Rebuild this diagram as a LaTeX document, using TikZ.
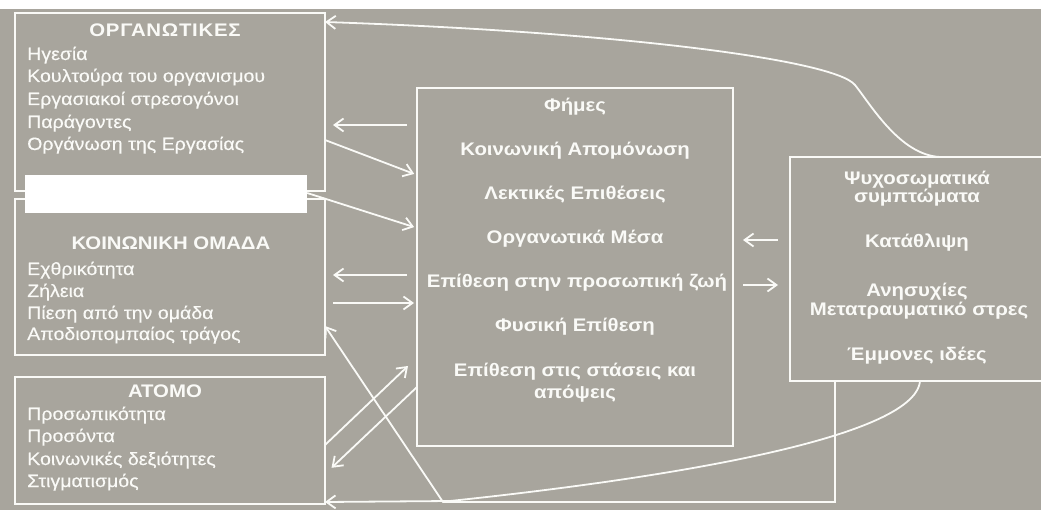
\documentclass[tikz,border=0pt]{standalone}
\usepackage{fontspec}
\setmainfont{Liberation Sans}
\newfontfamily\dfont[FakeStretch=1.1,FakeBold=0.3]{Liberation Sans}
\newfontfamily\bfont[FakeStretch=1.12]{Liberation Sans}
\newfontfamily\wfont[FakeStretch=1.12,LetterSpace=4]{Liberation Sans}
\usetikzlibrary{arrows.meta}
\definecolor{bg}{HTML}{A8A59D}
\definecolor{ln}{HTML}{FAFAF7}
\begin{document}
\begin{tikzpicture}[x=1pt,y=-1pt,
  box/.style={draw=ln, line width=2.4pt, inner sep=0pt, outer sep=0pt},
  txt/.style={text=ln, inner sep=0pt, anchor=base west, font=\dfont\fontsize{17.8}{19}\selectfont},
  ttl/.style={text=ln, inner sep=0pt, anchor=base, font=\bfont\bfseries\fontsize{18.2}{19}\selectfont},
  arr/.style={draw=ln, line width=1.8pt, -{Straight Barb[length=9pt,width=13pt]}}]
\useasboundingbox (0,0) rectangle (1041,510);
\clip (0,0) rectangle (1041,510);
\fill[bg] (0,0) rectangle (1041,510);
\fill[white] (0,0) rectangle (1041,9);

% boxes
\node[box, minimum width=310pt, minimum height=178pt] (org) at (170,102) {};
\node[box, minimum width=310pt, minimum height=156pt] (koin) at (170,277) {};
\node[box, minimum width=310pt, minimum height=127pt] (atomo) at (170,440.5) {};
\node[box, minimum width=316pt, minimum height=358pt] (cen) at (575,267) {};
\node[box, minimum width=270pt, minimum height=224pt] (rb) at (925,269) {};
\node[fill=white, inner sep=0pt, minimum width=282pt, minimum height=38pt] (wr) at (166,194) {};

% ORG text
\node[ttl, font=\wfont\bfseries\fontsize{18.2}{19}\selectfont] (ot) at (165,37) {ΟΡΓΑΝΩΤΙΚΕΣ};
\node[txt] (o1) at (27,60) {Ηγεσία};
\node[txt] (o2) at (27,82) {Κουλτούρα του οργανισμου};
\node[txt] (o3) at (27,105) {Εργασιακοί στρεσογόνοι};
\node[txt] (o4) at (27,128) {Παράγοντες};
\node[txt] (o5) at (27,150) {Οργάνωση της Εργασίας};

% KOIN text
\node[ttl] (kt) at (171,250) {ΚΟΙΝΩΝΙΚΗ ΟΜΑΔΑ};
\node[txt] (k1) at (27,275) {Εχθρικότητα};
\node[txt] (k2) at (27,297) {Ζήλεια};
\node[txt] (k3) at (27,319) {Πίεση από την ομάδα};
\node[txt] (k4) at (27,340) {Αποδιοπομπαίος τράγος};

% ATOMO text
\node[ttl] (at) at (165,397) {ΑΤΟΜΟ};
\node[txt] (a1) at (27,420) {Προσωπικότητα};
\node[txt] (a2) at (27,442) {Προσόντα};
\node[txt] (a3) at (27,465) {Κοινωνικές δεξιότητες};
\node[txt] (a4) at (27,487) {Στιγματισμός};

% central text
\node[ttl] (c1) at (575,112) {Φήμες};
\node[ttl] (c2) at (575,156) {Κοινωνική Απομόνωση};
\node[ttl] (c3) at (575,200) {Λεκτικές Επιθέσεις};
\node[ttl] (c4) at (575,244) {Οργανωτικά Μέσα};
\node[ttl] (c5) at (577,288) {Επίθεση στην προσωπική ζωή};
\node[ttl] (c6) at (575,332) {Φυσική Επίθεση};
\node[ttl] (c7) at (575,377) {Επίθεση στις στάσεις και};
\node[ttl] (c8) at (575,399) {απόψεις};

% right text
\node[ttl] (r1) at (917,185) {Ψυχοσωματικά};
\node[ttl] (r2) at (917,203) {συμπτώματα};
\node[ttl] (r3) at (917,248) {Κατάθλιψη};
\node[ttl] (r4) at (917,297) {Ανησυχίες};
\node[ttl] (r5) at (919,316) {Μετατραυματικό στρες};
\node[ttl] (r6) at (917,360) {Έμμονες ιδέες};

% connectors
\coordinate (p1) at (835,502);
\coordinate (p2) at (443,502);
\coordinate (d1) at (408,366);

\draw[arr, shorten <=10pt, shorten >=8pt] (cen.west |- 0,125) -- (org.east |- 0,125);
\draw[arr, shorten >=3pt] (org.east |- 0,140) -- (cen.west |- 0,175);
\draw[arr, shorten >=3pt] (wr.east |- 0,193) -- (cen.west |- 0,228);
\draw[arr, shorten <=10pt, shorten >=8pt] (cen.west |- 0,275) -- (koin.east |- 0,275);
\draw[arr, shorten <=8pt, shorten >=3pt] (koin.east |- 0,303) -- (cen.west |- 0,303);
\draw[arr] (rb.south -| 835,0) -- (p1) -- (p2) -- (koin.east |- 0,326);
\draw[arr] (atomo.east |- 0,445) -- (d1);
\draw[arr, shorten >=9pt] (cen.west |- 0,387) -- (atomo.east |- 0,474);
\draw[arr, shorten <=12pt, shorten >=10pt] (rb.west |- 0,240) -- (cen.east |- 0,240);
\draw[arr, shorten <=10pt, shorten >=12pt] (cen.east |- 0,285) -- (rb.west |- 0,285);

\draw[arr] (rb.north -| 940,0) .. controls (900,155) and (871,105) .. (855,85)
  .. controls (835,60) and (620,32) .. (org.east |- 0,22);
\draw[arr] (rb.south -| 920,0) .. controls (915,440) and (650,480) .. (450,501)
  -- (atomo.east |- 0,502);
\end{tikzpicture}
\end{document}
